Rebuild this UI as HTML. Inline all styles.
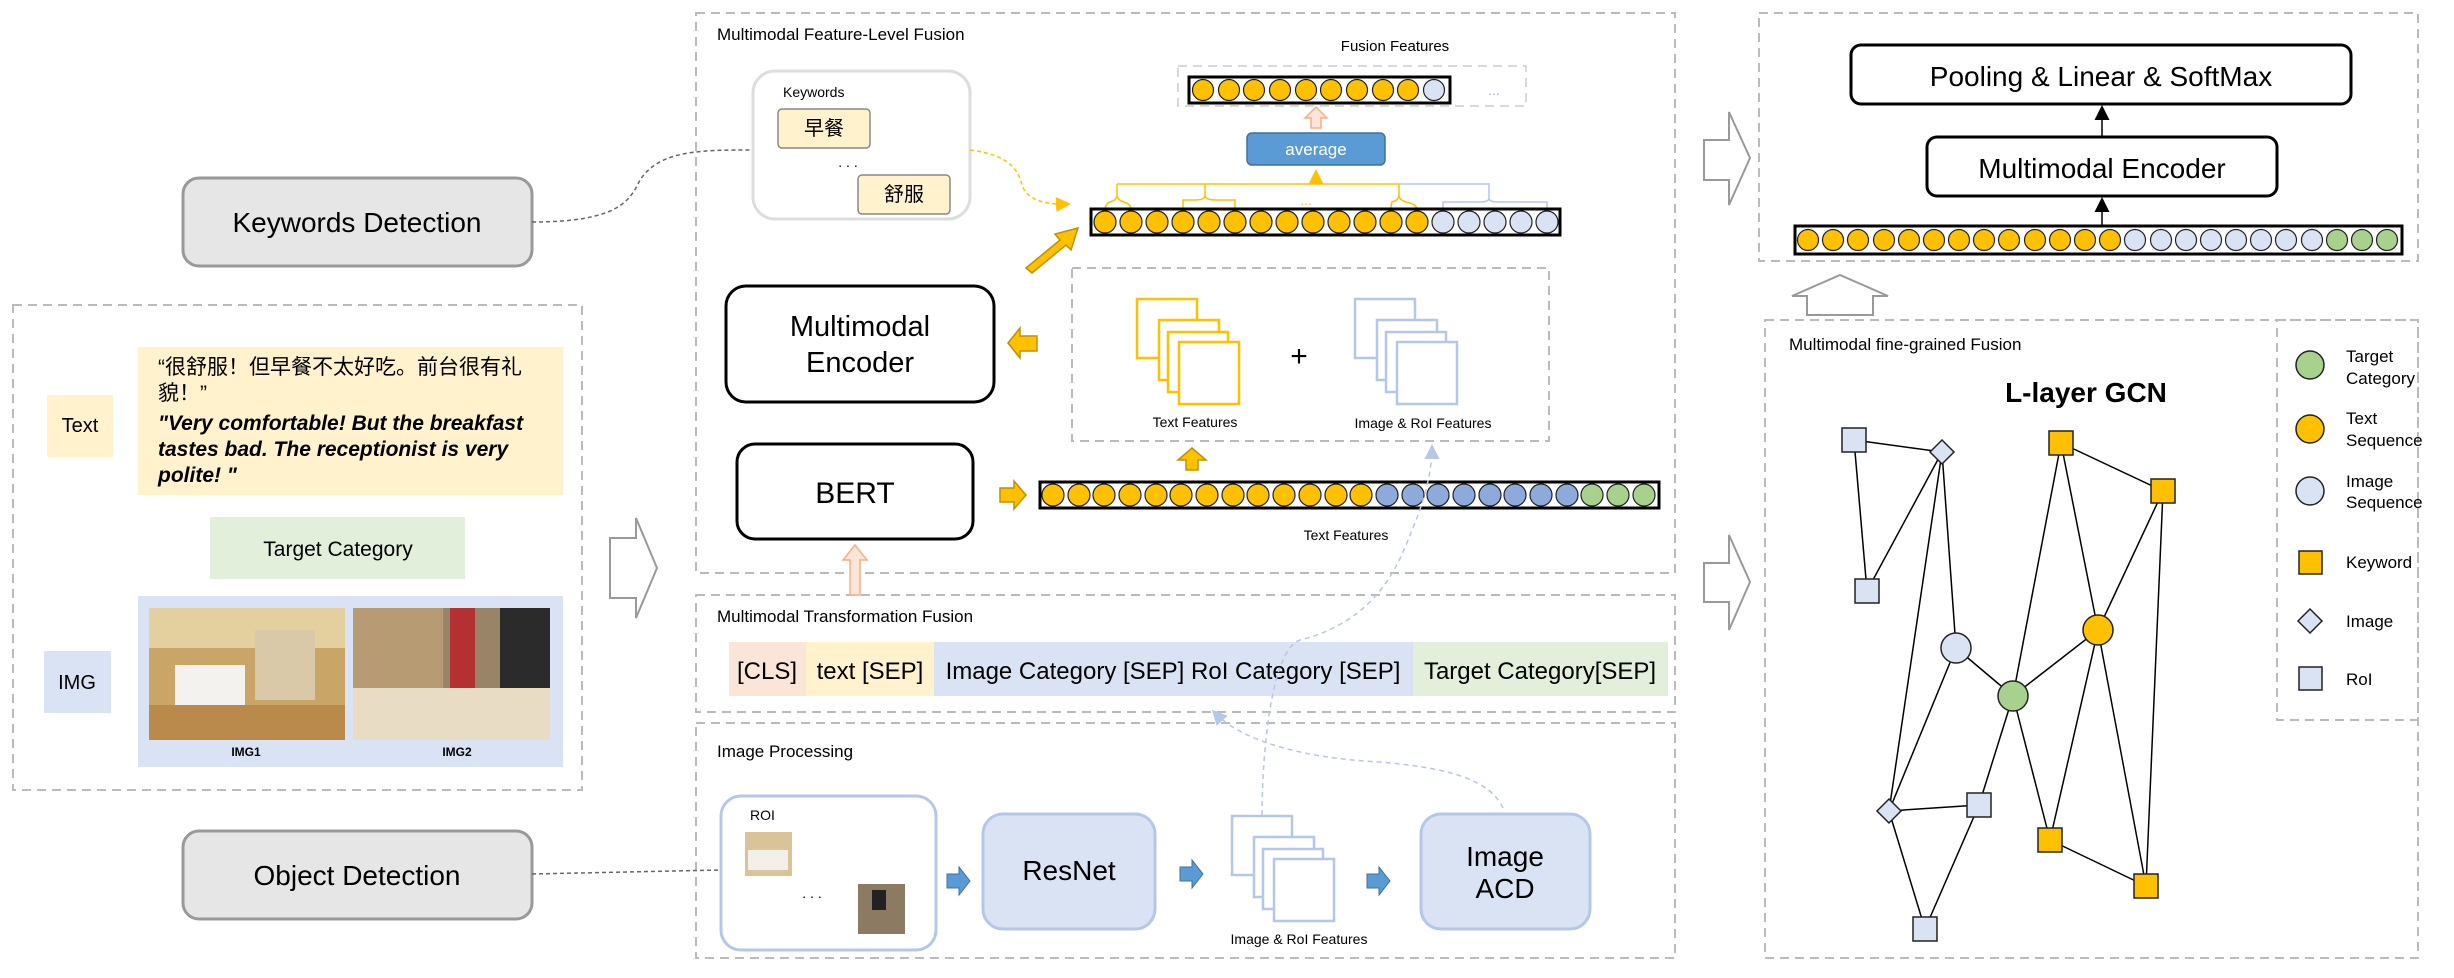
<!DOCTYPE html>
<html><head><meta charset="utf-8"><style>
html,body{margin:0;padding:0;background:#fff}
svg{display:block}
text{font-family:"Liberation Sans","Noto Sans CJK SC",sans-serif}
</style></head><body>
<svg width="2454" height="978" viewBox="0 0 2454 978" xmlns="http://www.w3.org/2000/svg">
<defs>
<marker id="ya" markerWidth="10" markerHeight="10" refX="8" refY="5" orient="auto"><path d="M0,0 L10,5 L0,10 z" fill="#ffc000"/></marker>
<marker id="ba" markerWidth="10" markerHeight="10" refX="8" refY="5" orient="auto"><path d="M0,0 L10,5 L0,10 z" fill="#b4c7e7"/></marker>
<marker id="ka" markerWidth="10" markerHeight="10" refX="8" refY="5" orient="auto"><path d="M0,0 L10,5 L0,10 z" fill="#000"/></marker>
</defs>
<g fill="none" stroke="#bbb" stroke-width="2" stroke-dasharray="9,6">
<rect x="13" y="305" width="569" height="485"/>
<rect x="696" y="13" width="979" height="560"/>
<rect x="696" y="595" width="979" height="117"/>
<rect x="696" y="723" width="979" height="235"/>
<rect x="1759" y="13" width="659" height="248"/>
<rect x="1765" y="320" width="653" height="638"/>
<rect x="2277" y="320" width="141" height="400"/>
<rect x="1072" y="268" width="477" height="173"/>
<rect x="1178" y="66" width="348" height="40" stroke="#ccc" stroke-width="1.5"/>
</g>
<!-- Left -->
<rect x="183" y="178" width="349" height="88" rx="16" fill="#e6e6e6" stroke="#999" stroke-width="3"/>
<text x="357" y="232" font-size="28" text-anchor="middle">Keywords Detection</text>
<rect x="183" y="831" width="349" height="88" rx="16" fill="#e6e6e6" stroke="#999" stroke-width="3"/>
<text x="357" y="885" font-size="28" text-anchor="middle">Object Detection</text>
<rect x="47" y="395" width="66" height="62" fill="#fff2cc"/>
<text x="80" y="432" font-size="20" text-anchor="middle">Text</text>
<rect x="138" y="347" width="425" height="148" fill="#fff2cc"/>
<text x="158" y="374" font-size="21">“很舒服！但早餐不太好吃。前台很有礼</text>
<text x="158" y="400" font-size="21">貌！”</text>
<text x="158" y="430" font-size="21" font-style="italic" font-weight="bold">"Very comfortable! But the breakfast</text>
<text x="158" y="456" font-size="21" font-style="italic" font-weight="bold">tastes bad. The receptionist is very</text>
<text x="158" y="482" font-size="21" font-style="italic" font-weight="bold">polite! "</text>
<rect x="210" y="517" width="255" height="62" fill="#e2efda"/>
<text x="338" y="556" font-size="21" text-anchor="middle">Target Category</text>
<rect x="44" y="651" width="67" height="62" fill="#dae3f3"/>
<text x="77" y="689" font-size="20" text-anchor="middle">IMG</text>
<rect x="138" y="596" width="425" height="171" fill="#dae3f3"/>
<rect x="149" y="608" width="196" height="132" fill="#c9a567"/>
<rect x="149" y="608" width="196" height="40" fill="#e4cf9f"/>
<rect x="175" y="665" width="70" height="40" fill="#f4f2ee"/>
<rect x="149" y="705" width="196" height="35" fill="#b98a4c"/>
<rect x="255" y="630" width="60" height="70" fill="#d9c9a8"/>
<rect x="353" y="608" width="197" height="132" fill="#9a8468"/>
<rect x="353" y="608" width="90" height="80" fill="#b79c73"/>
<rect x="450" y="608" width="25" height="80" fill="#b53030"/>
<rect x="500" y="608" width="50" height="80" fill="#2b2b2b"/>
<rect x="353" y="688" width="197" height="52" fill="#e8dcc4"/>
<text x="246" y="756" font-size="12" font-weight="bold" text-anchor="middle">IMG1</text>
<text x="457" y="756" font-size="12" font-weight="bold" text-anchor="middle">IMG2</text>
<!-- dashed connectors -->
<path d="M532,222 C620,222 630,200 640,180 C660,150 700,150 753,150" fill="none" stroke="#666" stroke-width="1.5" stroke-dasharray="4,3"/>
<path d="M532,874 L721,870" fill="none" stroke="#666" stroke-width="1.5" stroke-dasharray="4,3"/>
<!-- hollow arrows -->
<g fill="#fff" stroke="#999" stroke-width="2">
<polygon points="610,538 636,538 636,518 657,568 636,618 636,598 610,598"/>
<polygon points="1704,140 1729,140 1729,112 1750,158 1729,205 1729,180 1704,180"/>
<polygon points="1704,563 1729,563 1729,535 1750,582 1729,630 1729,602 1704,602"/>
<polygon points="1807,315 1807,296 1792,296 1840,275 1888,296 1873,296 1873,315"/>
</g>
<!-- Feature level -->
<text x="717" y="40" font-size="17">Multimodal Feature-Level Fusion</text>
<rect x="753" y="71" width="217" height="148" rx="22" fill="#fff" stroke="#ddd" stroke-width="3"/>
<text x="783" y="97" font-size="14">Keywords</text>
<rect x="778" y="109" width="92" height="39" rx="4" fill="#fff2cc" stroke="#888" stroke-width="1.5"/>
<text x="824" y="135" font-size="20" text-anchor="middle">早餐</text>
<text x="848" y="167" font-size="14" text-anchor="middle">. . .</text>
<rect x="858" y="175" width="92" height="39" rx="4" fill="#fff2cc" stroke="#888" stroke-width="1.5"/>
<text x="904" y="201" font-size="20" text-anchor="middle">舒服</text>
<path d="M970,150 C1010,155 1018,170 1022,185 C1027,200 1045,205 1068,204" fill="none" stroke="#ffc000" stroke-width="1.5" stroke-dasharray="4,3" marker-end="url(#ya)"/>
<rect x="726" y="286" width="268" height="116" rx="20" fill="#fff" stroke="#000" stroke-width="3"/>
<text x="860" y="336" font-size="29" text-anchor="middle">Multimodal</text>
<text x="860" y="372" font-size="29" text-anchor="middle">Encoder</text>
<rect x="737" y="444" width="236" height="95" rx="18" fill="#fff" stroke="#000" stroke-width="3"/>
<text x="855" y="503" font-size="30" text-anchor="middle">BERT</text>
<!-- gold arrows -->
<g fill="#ffc000" stroke="#c09000" stroke-width="1.5">
<polygon points="1020,336 1037,336 1037,351 1020,351 1020,358 1008,343 1020,328"/>
<polygon points="1000,488 1014,488 1014,481 1026,495 1014,509 1014,502 1000,502"/>
<polygon points="1186,470 1198,470 1198,460 1206,460 1192,448 1178,460 1186,460"/>
<polygon points="1026,268 1060,240 1055,234 1078,228 1071,250 1066,245 1032,273"/>
</g>
<polygon points="850,595 850,560 843,560 855,545 867,560 860,560 860,595" fill="#fbe5d6" stroke="#f4b183" stroke-width="1.5"/>
<!-- fusion features -->
<text x="1395" y="51" font-size="15" text-anchor="middle">Fusion Features</text>
<rect x="1189" y="77" width="261" height="26" fill="#fff" stroke="#000" stroke-width="3"/>
<g stroke="#222" stroke-width="1.2" fill="#ffc000">
<circle cx="1203" cy="90" r="10.5"/><circle cx="1229" cy="90" r="10.5"/><circle cx="1254" cy="90" r="10.5"/><circle cx="1280" cy="90" r="10.5"/><circle cx="1306" cy="90" r="10.5"/><circle cx="1331" cy="90" r="10.5"/><circle cx="1357" cy="90" r="10.5"/><circle cx="1383" cy="90" r="10.5"/><circle cx="1408" cy="90" r="10.5"/><circle cx="1434" cy="90" r="10.5" fill="#dae3f3"/>
</g>
<text x="1494" y="95" font-size="14" fill="#8eaadb" text-anchor="middle">...</text>
<polygon points="1311,128 1311,118 1305,118 1316,107 1327,118 1321,118 1321,128" fill="#fbe5d6" stroke="#f4b183" stroke-width="1.5"/>
<rect x="1247" y="133" width="138" height="32" rx="5" fill="#5b9bd5" stroke="#41719c" stroke-width="1.5"/>
<text x="1316" y="155" font-size="17" fill="#fff" text-anchor="middle">average</text>
<!-- braces -->
<g fill="none" stroke="#ffc000" stroke-width="1.5">
<path d="M1117,184 L1399,184"/>
<path d="M1316,184 L1316,172" marker-end="url(#ya)"/>
<path d="M1117,184 L1117,195 Q1117,200 1110,202 Q1105,204 1105,210 M1117,195 Q1117,200 1124,202 Q1131,204 1131,210"/>
<path d="M1205,184 L1205,195 Q1205,200 1195,200 L1183,200 Q1183,203 1183,210 M1205,195 Q1205,200 1215,200 L1235,200 Q1235,203 1235,210"/>
<path d="M1399,184 L1399,195 Q1399,200 1392,202 Q1391,204 1391,210 M1399,195 Q1399,200 1406,202 Q1417,204 1417,210"/>
</g>
<g fill="none" stroke="#b4c7e7" stroke-width="1.5">
<path d="M1399,184 L1489,184 L1489,198 Q1489,202 1480,202 L1443,202 L1443,210 M1489,198 Q1489,202 1498,202 L1547,202 L1547,210"/>
</g>
<text x="1306" y="205" font-size="14" fill="#ffc000" text-anchor="middle">...</text>
<rect x="1091" y="209" width="469" height="26" fill="#fff" stroke="#000" stroke-width="3"/>
<g stroke="#222" stroke-width="1.2" fill="#ffc000">
<circle cx="1105" cy="222" r="11"/><circle cx="1131" cy="222" r="11"/><circle cx="1157" cy="222" r="11"/><circle cx="1183" cy="222" r="11"/><circle cx="1209" cy="222" r="11"/><circle cx="1235" cy="222" r="11"/><circle cx="1261" cy="222" r="11"/><circle cx="1287" cy="222" r="11"/><circle cx="1313" cy="222" r="11"/><circle cx="1339" cy="222" r="11"/><circle cx="1365" cy="222" r="11"/><circle cx="1391" cy="222" r="11"/><circle cx="1417" cy="222" r="11"/>
<g fill="#dae3f3"><circle cx="1443" cy="222" r="11"/><circle cx="1469" cy="222" r="11"/><circle cx="1495" cy="222" r="11"/><circle cx="1521" cy="222" r="11"/><circle cx="1547" cy="222" r="11"/></g>
</g>
<!-- feature stacks -->
<g fill="#fff" stroke="#ffc000" stroke-width="2.5">
<rect x="1137" y="299" width="60" height="59"/><rect x="1159" y="320" width="60" height="60"/><rect x="1168" y="332" width="60" height="60"/><rect x="1179" y="342" width="60" height="62"/>
</g>
<g fill="#fff" stroke="#b4c7e7" stroke-width="2.5">
<rect x="1355" y="299" width="60" height="59"/><rect x="1377" y="320" width="60" height="60"/><rect x="1386" y="332" width="60" height="60"/><rect x="1397" y="342" width="60" height="62"/>
</g>
<text x="1299" y="366" font-size="30" text-anchor="middle">+</text>
<text x="1195" y="427" font-size="14" text-anchor="middle">Text Features</text>
<text x="1423" y="428" font-size="14" text-anchor="middle">Image &amp; RoI Features</text>
<!-- text features seq -->
<rect x="1040" y="482" width="619" height="26" fill="#fff" stroke="#000" stroke-width="3"/>
<g stroke="#222" stroke-width="1.2" fill="#ffc000">
<circle cx="1053" cy="495" r="11"/><circle cx="1079" cy="495" r="11"/><circle cx="1104" cy="495" r="11"/><circle cx="1130" cy="495" r="11"/><circle cx="1156" cy="495" r="11"/><circle cx="1181" cy="495" r="11"/><circle cx="1207" cy="495" r="11"/><circle cx="1233" cy="495" r="11"/><circle cx="1258" cy="495" r="11"/><circle cx="1284" cy="495" r="11"/><circle cx="1310" cy="495" r="11"/><circle cx="1336" cy="495" r="11"/><circle cx="1361" cy="495" r="11"/>
<g fill="#8eaadb"><circle cx="1387" cy="495" r="11"/><circle cx="1413" cy="495" r="11"/><circle cx="1438" cy="495" r="11"/><circle cx="1464" cy="495" r="11"/><circle cx="1490" cy="495" r="11"/><circle cx="1515" cy="495" r="11"/><circle cx="1541" cy="495" r="11"/><circle cx="1567" cy="495" r="11"/></g>
<g fill="#a9d18e"><circle cx="1592" cy="495" r="11"/><circle cx="1618" cy="495" r="11"/><circle cx="1644" cy="495" r="11"/></g>
</g>
<text x="1346" y="540" font-size="14" text-anchor="middle">Text Features</text>
<!-- transformation -->
<text x="717" y="622" font-size="17">Multimodal Transformation Fusion</text>
<rect x="729" y="642" width="77" height="54" fill="#fbe5d6"/>
<rect x="806" y="642" width="128" height="54" fill="#fff2cc"/>
<rect x="934" y="642" width="479" height="54" fill="#dae3f3"/>
<rect x="1413" y="642" width="255" height="54" fill="#e2efda"/>
<text x="767" y="679" font-size="24" text-anchor="middle">[CLS]</text>
<text x="870" y="679" font-size="24" text-anchor="middle">text [SEP]</text>
<text x="1173" y="679" font-size="24" text-anchor="middle">Image Category [SEP] RoI Category [SEP]</text>
<text x="1540" y="679" font-size="24" text-anchor="middle">Target Category[SEP]</text>
<!-- image processing -->
<text x="717" y="757" font-size="17">Image Processing</text>
<rect x="721" y="796" width="215" height="154" rx="20" fill="#fff" stroke="#b4c7e7" stroke-width="3"/>
<text x="750" y="820" font-size="14">ROI</text>
<rect x="745" y="832" width="47" height="44" fill="#d9c49a"/><rect x="748" y="850" width="40" height="20" fill="#f3f0ea"/>
<text x="812" y="898" font-size="14" text-anchor="middle">. . .</text>
<rect x="858" y="884" width="47" height="50" fill="#8c7a62"/><rect x="872" y="890" width="14" height="20" fill="#222"/>
<rect x="983" y="814" width="172" height="115" rx="20" fill="#dae3f3" stroke="#b4c7e7" stroke-width="3"/>
<text x="1069" y="880" font-size="28" text-anchor="middle">ResNet</text>
<rect x="1421" y="814" width="169" height="115" rx="20" fill="#dae3f3" stroke="#b4c7e7" stroke-width="3"/>
<text x="1505" y="866" font-size="28" text-anchor="middle">Image</text>
<text x="1505" y="898" font-size="28" text-anchor="middle">ACD</text>
<g fill="#fff" stroke="#b4c7e7" stroke-width="2.5">
<rect x="1232" y="816" width="60" height="59"/><rect x="1254" y="837" width="60" height="60"/><rect x="1263" y="849" width="60" height="60"/><rect x="1274" y="859" width="60" height="62"/>
</g>
<text x="1299" y="944" font-size="14" text-anchor="middle">Image &amp; RoI Features</text>
<g fill="#5b9bd5" stroke="#41719c" stroke-width="1">
<polygon points="947,874 959,874 959,867 970,881 959,895 959,888 947,888"/>
<polygon points="1180,867 1192,867 1192,860 1203,874 1192,888 1192,881 1180,881"/>
<polygon points="1367,874 1379,874 1379,867 1390,881 1379,895 1379,888 1367,888"/>
</g>
<path d="M1503,808 C1490,780 1450,768 1380,762 C1300,758 1240,740 1214,712" fill="none" stroke="#b4c7e7" stroke-width="1.5" stroke-dasharray="5,4" marker-end="url(#ba)"/>
<path d="M1262,815 C1262,760 1270,650 1300,640 C1380,620 1400,560 1412,530 C1425,500 1432,470 1432,447" fill="none" stroke="#b4c7e7" stroke-width="1.5" stroke-dasharray="5,4" marker-end="url(#ba)"/>
<!-- right top -->
<rect x="1851" y="45" width="500" height="59" rx="10" fill="#fff" stroke="#000" stroke-width="3"/>
<text x="2101" y="86" font-size="28" text-anchor="middle">Pooling &amp; Linear &amp; SoftMax</text>
<rect x="1927" y="137" width="350" height="59" rx="10" fill="#fff" stroke="#000" stroke-width="3"/>
<text x="2102" y="178" font-size="28" text-anchor="middle">Multimodal Encoder</text>
<path d="M2102,137 L2102,108" stroke="#000" stroke-width="1.5" marker-end="url(#ka)"/>
<path d="M2102,226 L2102,200" stroke="#000" stroke-width="1.5" marker-end="url(#ka)"/>
<rect x="1795" y="226" width="607" height="28" fill="#fff" stroke="#000" stroke-width="3"/>
<g stroke="#222" stroke-width="1.2" fill="#ffc000">
<circle cx="1808" cy="240" r="10.5"/><circle cx="1833" cy="240" r="10.5"/><circle cx="1858" cy="240" r="10.5"/><circle cx="1884" cy="240" r="10.5"/><circle cx="1909" cy="240" r="10.5"/><circle cx="1934" cy="240" r="10.5"/><circle cx="1959" cy="240" r="10.5"/><circle cx="1984" cy="240" r="10.5"/><circle cx="2009" cy="240" r="10.5"/><circle cx="2035" cy="240" r="10.5"/><circle cx="2060" cy="240" r="10.5"/><circle cx="2085" cy="240" r="10.5"/><circle cx="2110" cy="240" r="10.5"/>
<g fill="#dae3f3"><circle cx="2135" cy="240" r="10.5"/><circle cx="2161" cy="240" r="10.5"/><circle cx="2186" cy="240" r="10.5"/><circle cx="2211" cy="240" r="10.5"/><circle cx="2236" cy="240" r="10.5"/><circle cx="2261" cy="240" r="10.5"/><circle cx="2286" cy="240" r="10.5"/><circle cx="2312" cy="240" r="10.5"/></g>
<g fill="#a9d18e"><circle cx="2337" cy="240" r="10.5"/><circle cx="2362" cy="240" r="10.5"/><circle cx="2387" cy="240" r="10.5"/></g>
</g>
<!-- GCN -->
<text x="1789" y="350" font-size="17">Multimodal fine-grained Fusion</text>
<text x="2086" y="402" font-size="28" font-weight="bold" text-anchor="middle">L-layer GCN</text>
<g stroke="#000" stroke-width="1.5">
<line x1="1854" y1="440" x2="1942" y2="452"/><line x1="1854" y1="440" x2="1867" y2="591"/><line x1="1942" y1="452" x2="1867" y2="591"/>
<line x1="1942" y1="452" x2="1956" y2="648"/><line x1="1942" y1="452" x2="1889" y2="811"/>
<line x1="1956" y1="648" x2="1889" y2="811"/><line x1="1956" y1="648" x2="2013" y2="696"/>
<line x1="2013" y1="696" x2="2061" y2="443"/><line x1="2013" y1="696" x2="2098" y2="630"/><line x1="2013" y1="696" x2="2050" y2="840"/><line x1="2013" y1="696" x2="1979" y2="805"/>
<line x1="2061" y1="443" x2="2163" y2="491"/><line x1="2061" y1="443" x2="2098" y2="630"/><line x1="2163" y1="491" x2="2098" y2="630"/><line x1="2163" y1="491" x2="2146" y2="886"/>
<line x1="2098" y1="630" x2="2050" y2="840"/><line x1="2098" y1="630" x2="2146" y2="886"/><line x1="2050" y1="840" x2="2146" y2="886"/>
<line x1="1889" y1="811" x2="1979" y2="805"/><line x1="1889" y1="811" x2="1925" y2="929"/><line x1="1979" y1="805" x2="1925" y2="929"/>
</g>
<g stroke="#222" stroke-width="1.5">
<g fill="#dae3f3"><rect x="1842" y="428" width="24" height="24"/><rect x="1855" y="579" width="24" height="24"/><rect x="1967" y="793" width="24" height="24"/><rect x="1913" y="917" width="24" height="24"/>
<polygon points="1942,440 1954,452 1942,464 1930,452"/><polygon points="1889,799 1901,811 1889,823 1877,811"/>
<circle cx="1956" cy="648" r="15"/></g>
<g fill="#ffc000"><rect x="2049" y="431" width="24" height="24"/><rect x="2151" y="479" width="24" height="24"/><rect x="2038" y="828" width="24" height="24"/><rect x="2134" y="874" width="24" height="24"/>
<circle cx="2098" cy="630" r="15"/></g>
<circle cx="2013" cy="696" r="15" fill="#a9d18e"/>
</g>
<!-- legend -->
<g stroke="#222" stroke-width="1.5">
<circle cx="2310" cy="365" r="14" fill="#a9d18e"/>
<circle cx="2310" cy="429" r="14" fill="#ffc000"/>
<circle cx="2310" cy="491" r="14" fill="#dae3f3"/>
<rect x="2299" y="551" width="23" height="23" fill="#ffc000"/>
<polygon points="2310,609 2322,621 2310,633 2298,621" fill="#dae3f3"/>
<rect x="2299" y="667" width="23" height="23" fill="#dae3f3"/>
</g>
<g font-size="17">
<text x="2346" y="362">Target</text><text x="2346" y="384">Category</text>
<text x="2346" y="424">Text</text><text x="2346" y="446">Sequence</text>
<text x="2346" y="487">Image</text><text x="2346" y="508">Sequence</text>
<text x="2346" y="568">Keyword</text>
<text x="2346" y="627">Image</text>
<text x="2346" y="685">RoI</text>
</g>
</svg>
</body></html>
